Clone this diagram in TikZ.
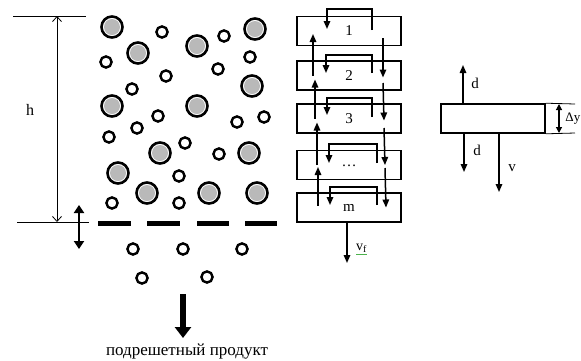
\documentclass[tikz,border=0pt]{standalone}
\usepackage{fontspec}
\setmainfont{Liberation Serif}
\usetikzlibrary{arrows.meta,calc}
\begin{document}
\begin{tikzpicture}[x=1pt,y=-1pt,
  lbl/.style={font=\fontsize{16}{18}\selectfont, inner sep=0pt},
  stage/.style={draw, line width=1.6pt, minimum width=104pt, minimum height=29pt,
    inner sep=0pt, font=\fontsize{15}{17}\selectfont},
  flow/.style={line width=1.5pt, -{Triangle[length=8pt,width=6.5pt]}},
  thin/.style={line width=0.8pt},
  big/.style={line width=2.6pt, draw=black, fill=white},
  small/.style={line width=2.4pt, draw=black, fill=white},
  bar/.style={line width=5pt},
]
\useasboundingbox (0,0) rectangle (581,360);
\clip (0,0) rectangle (581,360);

% ---- layer height h ----
\coordinate (htop) at (57,16);
\coordinate (hbot) at (57,222);
\draw[thin] (13,16) -- (86,16);
\draw[thin] (17,222) -- (89,222);
\draw[thin, {Straight Barb[length=5pt,width=9pt]}-{Straight Barb[length=5pt,width=9pt]}] (htop) -- (hbot);
\node[lbl] (hlab) at (30,110) {h};

% ---- oscillation of the sieve ----
\coordinate (osctop) at (79,205);
\coordinate (oscbot) at (79,249);
\draw[line width=2.8pt, {Triangle[length=8pt,width=10pt]}-{Triangle[length=8pt,width=10pt]}] (osctop) -- (oscbot);

% ---- sieve ----
\foreach \a/\b in {98/131,147/180,197/229,245/277}
  \draw[bar] (\a,223) -- (\b,223);

% ---- large particles ----
\foreach \x/\y in {112/27,138/53,197/46,255/29,252/86,112/106,197/106,160/153,
                   249/153,118/173,147/193,209/193,257/193}{
  \draw[big] (\x,\y) circle[radius=10.5pt];
  \fill[gray!55] (\x,\y) circle[radius=8pt];
}

% ---- small particles ----
\foreach \x/\y in {162/32,224/36,106/62,250/57,218/69,166/76,132/89,158/116,
                   237/122,264/117,137/128,109/137,185/143,219/154,179/176,
                   112/203,179/203,133/249,183/249,242/249,142/278,207/277}
  \draw[small] (\x,\y) circle[radius=5.6pt];

% ---- undersize product ----
\coordinate (outtop) at (183,294);
\coordinate (outbot) at (183,338);
\draw[line width=5.5pt, -{Triangle[length=11pt,width=16pt]}] (outtop) -- (outbot);
\node[inner sep=0pt, font=\fontsize{17}{19}\selectfont] (under) at (187,352) {подрешетный продукт};

% ---- stages of the layer ----
\node[stage] (b1) at (349,31)    {1};
\node[stage] (b2) at (349,75.5)  {2};
\node[stage] (b3) at (349,118.5) {3};
\node[stage] (b4) at (349,165)   {\raisebox{-3pt}{\dots}};
\node[stage] (b5) at (349,207.5) {m};

% circulation inside each stage
\draw[flow] ($(b1.center)+(23,-1)$)  -- ($(b1.center)+(23,-22)$)  -- ($(b1.center)+(-22,-22)$) -- ($(b1.center)+(-22,-2)$);
\draw[flow] ($(b2.center)+(23,-2.5)$) -- ($(b2.center)+(23,-20.5)$) -- ($(b2.center)+(-23,-20.5)$) -- ($(b2.center)+(-23,-2.5)$);
\draw[flow] ($(b3.center)+(23,-1.5)$) -- ($(b3.center)+(23,-20.5)$) -- ($(b3.center)+(-22,-20.5)$) -- ($(b3.center)+(-22,-3.5)$);
\draw[flow] ($(b4.center)+(28,-2)$)  -- ($(b4.center)+(28,-21)$)  -- ($(b4.center)+(-20,-21)$) -- ($(b4.center)+(-20,-2)$);
\draw[flow] ($(b5.center)+(28,-2.5)$) -- ($(b5.center)+(28,-20.5)$) -- ($(b5.center)+(-19,-20.5)$) -- ($(b5.center)+(-19,-2.5)$);

% upward exchange between stages
\draw[flow] ($(b2.center)+(-36,0)$)  -- ($(b1.center)+(-36,3)$);
\draw[flow] ($(b3.center)+(-34,0)$)  -- ($(b2.center)+(-34,4)$);
\draw[flow] ($(b4.center)+(-32,0)$)  -- ($(b3.center)+(-32,4)$);
\draw[flow] ($(b5.center)+(-31,-2)$) -- ($(b4.center)+(-31,2)$);

% downward exchange between stages
\draw[flow] ($(b1.center)+(34,7)$)   -- ($(b2.center)+(34,2)$);
\draw[flow] ($(b2.center)+(34,7.5)$) -- ($(b3.center)+(35,2)$);
\draw[flow] ($(b3.center)+(35,9.5)$) -- ($(b4.center)+(36,0)$);
\draw[flow] ($(b4.center)+(36,3)$)   -- ($(b5.center)+(37,0)$);

% outflow from the last stage
\coordinate (vfend) at (347,263);
\draw[flow] (b5.south -| vfend) -- (vfend);
\node[inner sep=0pt, anchor=west, font=\fontsize{14}{16}\selectfont] (vflab) at (356,248) {v\textsubscript{f}};
\draw[line width=0.5pt, green!40!gray] ($(vflab.south west)+(0,1.5)$) -- ($(vflab.south east)+(0,1.5)$);

% ---- single element of thickness Δy ----
\node[draw, line width=1.6pt, minimum width=104pt, minimum height=29pt, inner sep=0pt] (el) at (493,118.5) {};
\coordinate (dup) at (463,65);
\coordinate (ddown) at (464,172);
\coordinate (vdown) at (499,192);
\draw[flow] (el.north -| dup) -- (dup);
\draw[flow] (el.south -| ddown) -- (ddown);
\draw[flow] (el.south -| vdown) -- (vdown);
\node[lbl, font=\fontsize{15}{17}\selectfont] (dlab1) at (475,83) {d};
\node[lbl, font=\fontsize{15}{17}\selectfont] (dlab2) at (477,150) {d};
\node[lbl, font=\fontsize{15}{17}\selectfont] (vlab) at (512,168) {v};

\coordinate (dyt) at (559,104);
\coordinate (dyb) at (559,133);
\draw[thin] (el.north east) -- (575,104);
\draw[thin] (el.south east) -- (575,133);
\draw[line width=1.2pt, {Triangle[length=6pt,width=6pt]}-{Triangle[length=6pt,width=6pt]}] (dyt) -- (dyb);
\node[lbl, anchor=east, font=\fontsize{13}{15}\selectfont] (dylab) at (580.5,119) {Δy};
\end{tikzpicture}
\end{document}
